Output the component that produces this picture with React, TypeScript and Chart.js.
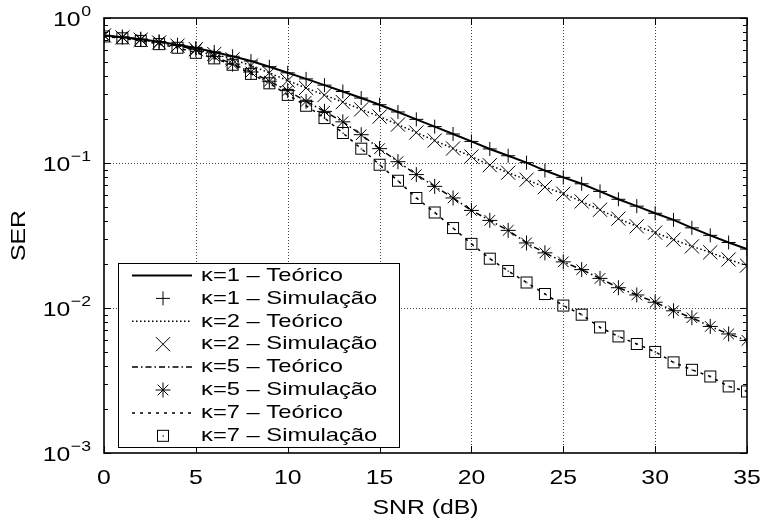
import React, { useEffect, useRef } from "react";
import { Chart, registerables } from "chart.js";
Chart.register(...registerables);

// ---------- data ----------
const snrDb = [
  0, 1, 2, 3, 4, 5, 6, 7, 8, 9, 10, 11, 12, 13, 14, 15, 16, 17,
  18, 19, 20, 21, 22, 23, 24, 25, 26, 27, 28, 29, 30, 31, 32, 33, 34, 35,
];

const kappa1Theory = [
  0.7586, 0.7362, 0.7129, 0.6871, 0.6546, 0.6209, 0.5834, 0.5445, 0.5047, 0.4613,
  0.4188, 0.3802, 0.3443, 0.3112, 0.2805, 0.2523, 0.2249, 0.2, 0.1782, 0.1585,
  0.1409, 0.125, 0.1122, 0.1005, 0.0887, 0.0796, 0.0719, 0.0637, 0.0562, 0.0504,
  0.045, 0.0405, 0.0357, 0.0317, 0.0283, 0.0255,
];
const kappa1Sim = [
  0.7586, 0.7362, 0.7129, 0.6871, 0.6546, 0.6209, 0.5834, 0.5445, 0.5047, 0.4613,
  0.4188, 0.3802, 0.3443, 0.3112, 0.2805, 0.2523, 0.2249, 0.2, 0.1782, 0.1585,
  0.1409, 0.125, 0.1122, 0.1005, 0.0887, 0.0796, 0.0719, 0.0637, 0.0562, 0.0504,
  0.045, 0.0405, 0.0357, 0.0317, 0.0283, 0.0255,
];

const kappa2Theory = [
  0.7586, 0.7345, 0.7079, 0.6776, 0.6442, 0.6095, 0.5649, 0.5188, 0.4699, 0.4188,
  0.3698, 0.3296, 0.2938, 0.263, 0.2344, 0.2089, 0.1841, 0.1622, 0.1429, 0.1259,
  0.1109, 0.0966, 0.0857, 0.0767, 0.0682, 0.0614, 0.0543, 0.0476, 0.0413, 0.0366,
  0.0331, 0.0296, 0.0266, 0.0242, 0.0216, 0.0196,
];
const kappa2Sim = [
  0.7586, 0.7345, 0.7079, 0.6776, 0.6442, 0.6095, 0.5649, 0.5188, 0.4699, 0.4188,
  0.3698, 0.3296, 0.2938, 0.263, 0.2344, 0.2089, 0.1841, 0.1622, 0.1429, 0.1259,
  0.1109, 0.0966, 0.0857, 0.0767, 0.0682, 0.0614, 0.0543, 0.0476, 0.0413, 0.0366,
  0.0331, 0.0296, 0.0266, 0.0242, 0.0216, 0.0196,
];

const kappa5Theory = [
  0.7586, 0.7396, 0.7145, 0.6823, 0.6457, 0.6039, 0.5433, 0.4808, 0.4246, 0.3664,
  0.3155, 0.2661, 0.227, 0.1923, 0.1567, 0.1256, 0.1021, 0.0832, 0.069, 0.0574,
  0.0471, 0.0402, 0.0343, 0.0281, 0.024, 0.0208, 0.0184, 0.016, 0.0138, 0.0123,
  0.01096, 0.00957, 0.00857, 0.00746, 0.00662, 0.00598,
];
const kappa5Sim = [
  0.7586, 0.7396, 0.7145, 0.6823, 0.6457, 0.6039, 0.5433, 0.4808, 0.4246, 0.3664,
  0.3155, 0.2661, 0.227, 0.1923, 0.1567, 0.1256, 0.1021, 0.0832, 0.069, 0.0574,
  0.0471, 0.0402, 0.0343, 0.0281, 0.024, 0.0208, 0.0184, 0.016, 0.0138, 0.0123,
  0.01096, 0.00957, 0.00857, 0.00746, 0.00662, 0.00598,
];

const kappa7Theory = [
  0.7464, 0.7244, 0.695, 0.6607, 0.6237, 0.5754, 0.5272, 0.4764, 0.4121, 0.3548,
  0.2951, 0.2483, 0.2042, 0.1611, 0.1256, 0.0973, 0.0755, 0.0574, 0.0456, 0.0356,
  0.0277, 0.0219, 0.018, 0.015, 0.0125, 0.0104, 0.009, 0.00735, 0.00637, 0.00565,
  0.00498, 0.00422, 0.00375, 0.00337, 0.00288, 0.00266,
];
const kappa7Sim = [
  0.7464, 0.7244, 0.695, 0.6607, 0.6237, 0.5754, 0.5272, 0.4764, 0.4121, 0.3548,
  0.2951, 0.2483, 0.2042, 0.1611, 0.1256, 0.0973, 0.0755, 0.0574, 0.0456, 0.0356,
  0.0277, 0.0219, 0.018, 0.015, 0.0125, 0.0104, 0.009, 0.00735, 0.00637, 0.00565,
  0.00498, 0.00422, 0.00375, 0.00337, 0.00288, 0.00266,
];

const seriesLabels = [
  "κ=1 – Teórico",
  "κ=1 – Simulação",
  "κ=2 – Teórico",
  "κ=2 – Simulação",
  "κ=5 – Teórico",
  "κ=5 – Simulação",
  "κ=7 – Teórico",
  "κ=7 – Simulação",
];

const xTickValues = [0, 5, 10, 15, 20, 25, 30, 35];
const xTickLabels = ["0", "5", "10", "15", "20", "25", "30", "35"];
const yTickValues = [1, 0.1, 0.01, 0.001];
const yTickBase = "10";
const yTickExponents = ["0", "−1", "−2", "−3"];
const yMinorFactors = [2, 3, 4, 5, 6, 7, 8, 9];
const xTitle = "SNR (dB)";
const yTitle = "SER";

// ---------- drawing helpers ----------
const FONT = '"Liberation Sans", Arial, Helvetica, sans-serif';
const TICK_SX = 1.18;
const LEGEND_SX = 1.25;

function sText(
  ctx: CanvasRenderingContext2D,
  text: string,
  x: number,
  y: number,
  px: number,
  align: CanvasTextAlign,
  sx: number,
  rot = 0
) {
  ctx.save();
  ctx.font = `${px}px ${FONT}`;
  ctx.fillStyle = "#000";
  ctx.textBaseline = "middle";
  ctx.textAlign = align;
  ctx.translate(x, y);
  if (rot) ctx.rotate(rot);
  ctx.scale(sx, 1);
  ctx.fillText(text, 0, 0);
  ctx.restore();
}

function textWidth(ctx: CanvasRenderingContext2D, text: string, px: number, sx: number) {
  ctx.save();
  ctx.font = `${px}px ${FONT}`;
  const w = ctx.measureText(text).width * sx;
  ctx.restore();
  return w;
}

function drawMarker(
  ctx: CanvasRenderingContext2D,
  style: any,
  x: number,
  y: number,
  r: number
) {
  ctx.save();
  ctx.strokeStyle = "#000";
  ctx.lineWidth = 1;
  ctx.setLineDash([]);
  if (typeof style !== "string") {
    ctx.drawImage(style, x - style.width / 2, y - style.height / 2);
    ctx.restore();
    return;
  }
  const d = r * Math.SQRT1_2;
  ctx.beginPath();
  if (style === "cross" || style === "star") {
    ctx.moveTo(x - r, y);
    ctx.lineTo(x + r, y);
    ctx.moveTo(x, y - r);
    ctx.lineTo(x, y + r);
  }
  if (style === "crossRot" || style === "star") {
    ctx.moveTo(x - d, y - d);
    ctx.lineTo(x + d, y + d);
    ctx.moveTo(x - d, y + d);
    ctx.lineTo(x + d, y - d);
  }
  ctx.stroke();
  ctx.restore();
}

function makeSquareMarker() {
  const c = document.createElement("canvas");
  c.width = 14;
  c.height = 14;
  const g = c.getContext("2d")!;
  g.strokeStyle = "#000";
  g.lineWidth = 1;
  g.strokeRect(1.5, 1.5, 11, 11);
  g.fillStyle = "#000";
  g.fillRect(6.5, 6.5, 1.3, 1.3);
  return c;
}

const framePlugin = {
  id: "frame",
  beforeDatasetsDraw(chart: any) {
    const { ctx, chartArea: a, scales } = chart;
    const xs = scales.x;
    const ys = scales.y;
    ctx.save();
    ctx.strokeStyle = "rgba(0,0,0,0.75)";
    ctx.lineWidth = 1;
    ctx.setLineDash([1, 2]);
    ctx.beginPath();
    xTickValues.forEach((v, i) => {
      if (i === 0 || i === xTickValues.length - 1) return;
      const px = Math.round(xs.getPixelForValue(v)) + 0.5;
      ctx.moveTo(px, a.top);
      ctx.lineTo(px, a.bottom);
    });
    yTickValues.forEach((v, i) => {
      if (i === 0 || i === yTickValues.length - 1) return;
      const py = Math.round(ys.getPixelForValue(v)) + 0.5;
      ctx.moveTo(a.left, py);
      ctx.lineTo(a.right, py);
    });
    ctx.stroke();
    ctx.restore();
  },
  afterDatasetsDraw(chart: any) {
    const { ctx, chartArea: a, scales } = chart;
    const xs = scales.x;
    const ys = scales.y;
    ctx.save();
    ctx.setLineDash([]);
    ctx.strokeStyle = "#000";

    // tick marks (inward, mirrored)
    ctx.lineWidth = 1;
    ctx.beginPath();
    xTickValues.forEach((v) => {
      const px = Math.round(xs.getPixelForValue(v)) + 0.5;
      ctx.moveTo(px, a.bottom);
      ctx.lineTo(px, a.bottom - 7);
      ctx.moveTo(px, a.top);
      ctx.lineTo(px, a.top + 7);
    });
    yTickValues.forEach((v) => {
      const py = Math.round(ys.getPixelForValue(v)) + 0.5;
      ctx.moveTo(a.left, py);
      ctx.lineTo(a.left + 7, py);
      ctx.moveTo(a.right, py);
      ctx.lineTo(a.right - 7, py);
      if (v < 1) {
        yMinorFactors.forEach((f) => {
          const pm = Math.round(ys.getPixelForValue(v * f)) + 0.5;
          ctx.moveTo(a.left, pm);
          ctx.lineTo(a.left + 4, pm);
          ctx.moveTo(a.right, pm);
          ctx.lineTo(a.right - 4, pm);
        });
      }
    });
    ctx.stroke();

    // border
    ctx.lineWidth = 1.6;
    ctx.strokeRect(a.left, a.top, a.right - a.left, a.bottom - a.top);

    // x tick labels
    xTickValues.forEach((v, i) => {
      sText(ctx, xTickLabels[i], xs.getPixelForValue(v), a.bottom + 25, 21, "center", TICK_SX);
    });

    // y tick labels 10^n
    const labelRight = a.left - 13;
    yTickValues.forEach((v, i) => {
      const py = ys.getPixelForValue(v);
      const wSup = textWidth(ctx, yTickExponents[i], 15, TICK_SX);
      sText(ctx, yTickExponents[i], labelRight - wSup, py - 6, 15, "left", TICK_SX);
      sText(ctx, yTickBase, labelRight - wSup - 0.5, py + 2.5, 21, "right", TICK_SX);
    });

    // axis titles
    sText(ctx, xTitle, (a.left + a.right) / 2, a.bottom + 55, 21, "center", TICK_SX);
    sText(ctx, yTitle, 19, (a.top + a.bottom) / 2, 21, "center", TICK_SX, -Math.PI / 2);

    // legend
    const lx = 118, ly = 263, lw = 281, lh = 184;
    ctx.fillStyle = "#fff";
    ctx.fillRect(lx, ly, lw, lh);
    ctx.lineWidth = 1;
    ctx.strokeStyle = "#000";
    ctx.strokeRect(lx + 0.5, ly + 0.5, lw, lh);
    chart.data.datasets.forEach((ds: any, i: number) => {
      const cy = 275.5 + i * 22.9;
      if (ds.showLine) {
        ctx.save();
        ctx.strokeStyle = "#000";
        ctx.lineWidth = ds.borderWidth;
        ctx.setLineDash(ds.borderDash || []);
        ctx.beginPath();
        ctx.moveTo(132, cy);
        ctx.lineTo(192, cy);
        ctx.stroke();
        ctx.restore();
      } else {
        drawMarker(ctx, ds.pointStyle, 163, cy, ds.pointRadius);
      }
      sText(ctx, ds.label, 201, cy, 19, "left", LEGEND_SX);
    });
    ctx.restore();
  },
};

export default function App() {
  const canvasRef = useRef<HTMLCanvasElement | null>(null);

  useEffect(() => {
    const canvas = canvasRef.current;
    if (!canvas) return;
    const square = makeSquareMarker();
    const pts = (ys: number[]) => snrDb.map((x, i) => ({ x, y: ys[i] }));
    const lineDs = (label: string, ys: number[], width: number, dash: number[]) => ({
      label,
      data: pts(ys),
      showLine: true,
      borderColor: "#000",
      borderWidth: width,
      borderDash: dash,
      pointRadius: 0,
      pointHoverRadius: 0,
      fill: false,
      tension: 0,
    });
    const pointDs = (label: string, ys: number[], style: any, r: number) => ({
      label,
      data: pts(ys),
      showLine: false,
      pointStyle: style,
      pointRadius: r,
      pointHoverRadius: r,
      pointBorderColor: "#000",
      pointBackgroundColor: "rgba(0,0,0,0)",
      pointBorderWidth: 1,
      borderColor: "#000",
      borderWidth: 1,
    });

    const chart = new Chart(canvas, {
      type: "line",
      data: {
        datasets: [
          lineDs(seriesLabels[0], kappa1Theory, 2, []),
          pointDs(seriesLabels[1], kappa1Sim, "cross", 7),
          lineDs(seriesLabels[2], kappa2Theory, 1.5, [1.5, 2.5]),
          pointDs(seriesLabels[3], kappa2Sim, "crossRot", 10),
          lineDs(seriesLabels[4], kappa5Theory, 1.5, [6, 3, 1.5, 3]),
          pointDs(seriesLabels[5], kappa5Sim, "star", 7.5),
          lineDs(seriesLabels[6], kappa7Theory, 1.5, [3, 5]),
          pointDs(seriesLabels[7], kappa7Sim, square, 7),
        ] as any,
      },
      options: {
        animation: false,
        responsive: false,
        maintainAspectRatio: false,
        events: [],
        layout: { padding: { left: 0, right: 19, top: 18, bottom: 0 } },
        plugins: {
          legend: { display: false },
          tooltip: { enabled: false },
        },
        scales: {
          x: {
            type: "linear",
            min: 0,
            max: 35,
            grid: { display: false },
            border: { display: false },
            ticks: { display: false },
            afterFit: (s: any) => {
              s.height = 77;
            },
          },
          y: {
            type: "logarithmic",
            min: 0.001,
            max: 1,
            grid: { display: false },
            border: { display: false },
            ticks: { display: false },
            afterFit: (s: any) => {
              s.width = 104;
            },
          },
        },
      } as any,
      plugins: [framePlugin],
    });
    return () => chart.destroy();
  }, []);

  return (
    <div
      style={{
        position: "fixed",
        left: 0,
        top: 0,
        width: 766,
        height: 530,
        background: "#fff",
      }}
    >
      <canvas ref={canvasRef} width={766} height={530} style={{ display: "block" }} />
    </div>
  );
}
